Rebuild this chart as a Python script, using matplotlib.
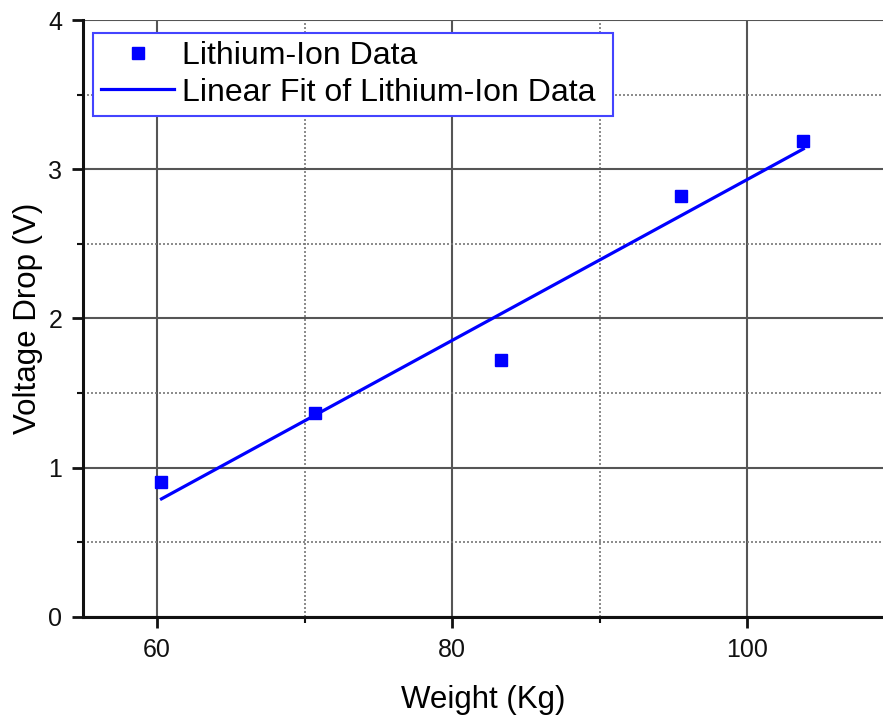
import numpy as np
import matplotlib

matplotlib.use("Agg")
import matplotlib.pyplot as plt
from matplotlib.ticker import MultipleLocator

plt.rcParams["font.family"] = ["Liberation Sans", "DejaVu Sans"]

# values
weight = [60.3, 70.7, 83.3, 95.5, 103.8]
voltage = [0.90, 1.365, 1.72, 2.82, 3.19]
BLUE, GRID_MAJ, GRID_MIN = "#0000FF", "#555555", "#777777"

slope, icpt = np.polyfit(weight, voltage, 1)
xfit = np.array([min(weight), max(weight)])

fig = plt.figure(figsize=(8.83, 7.16), dpi=100)
ax = fig.add_axes([0.0943, 0.1387, 1.0 - 0.0943, 0.8333])

ax.plot(weight, voltage, "s", color=BLUE, ms=9, zorder=4,
        label="Lithium-Ion Data")
ax.plot(xfit, slope * xfit + icpt, "-", color=BLUE, lw=2.3, zorder=3,
        label="Linear Fit of Lithium-Ion Data ")

ax.set_xlim(55, 109.2)
ax.set_ylim(0, 4)
ax.xaxis.set_major_locator(MultipleLocator(20))
ax.xaxis.set_minor_locator(MultipleLocator(10))
ax.yaxis.set_major_locator(MultipleLocator(1))
ax.yaxis.set_minor_locator(MultipleLocator(0.5))

ax.grid(which="major", color=GRID_MAJ, lw=1.5, ls="-")
ax.grid(which="minor", color=GRID_MIN, lw=1.2, ls=(0, (1.2, 1.2)))
ax.set_axisbelow(True)

for side in ("top", "right"):
    ax.spines[side].set_visible(False)
for side in ("left", "bottom"):
    ax.spines[side].set_linewidth(2.2)
    ax.spines[side].set_color("#111111")

ax.tick_params(which="major", direction="out", length=8, width=2,
               labelsize=18, pad=7, colors="#111111")
ax.tick_params(which="minor", direction="out", length=4, width=1.5,
               colors="#111111")

ax.set_xlabel("Weight (Kg)", fontsize=22.5, labelpad=17)
ax.set_ylabel("Voltage Drop (V)", fontsize=22.5, labelpad=4)

leg = ax.legend(loc="upper left", bbox_to_anchor=(0.012, 0.978),
                borderaxespad=0, fontsize=23, handlelength=2.3,
                handletextpad=0.25, labelspacing=0.2, borderpad=0.25,
                fancybox=False, framealpha=1, numpoints=1)
leg.get_frame().set_edgecolor("#4444FF")
leg.get_frame().set_linewidth(1.5)

fig.savefig("out.png", dpi=100)
